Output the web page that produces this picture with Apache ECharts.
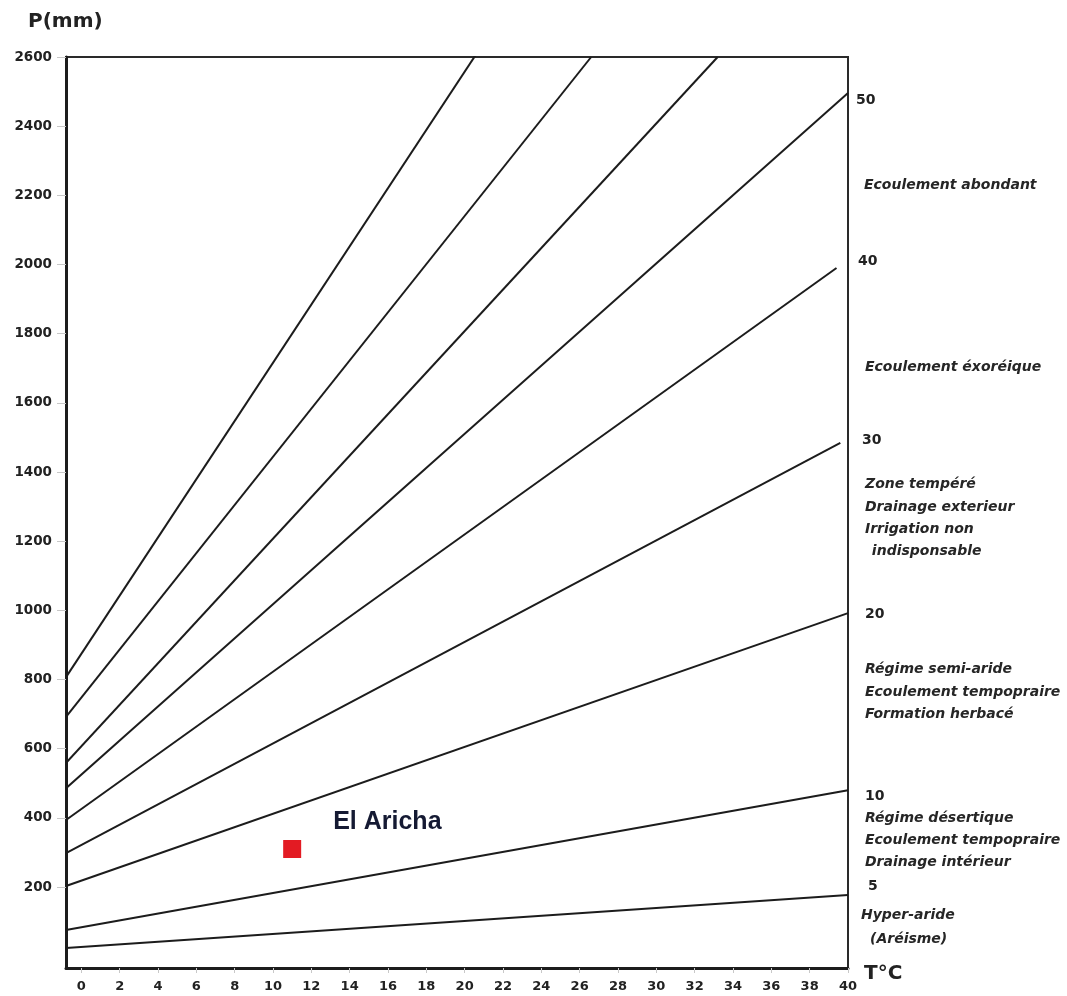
<!DOCTYPE html>
<html>
<head>
<meta charset="utf-8">
<title>Abaque de De Martonne</title>
<script src="https://cdn.jsdelivr.net/npm/echarts@6/dist/echarts.min.js"></script>
<style>
  html, body { margin: 0; padding: 0; background: #fff; }
  #chart { width: 1067px; height: 996px; }
</style>
</head>
<body>
<div id="chart"></div>
<script>
// Aridity index isolines (De Martonne): each drawn from its start to its end point
const indexLevels = [5, 10, 20, 30, 40, 50, 60, 70, 80];
const lineStartT = [-0.8, -0.8, -0.8, -0.8, -0.8, -0.8, -0.9, -0.8, -0.8];
const lineStartP = [24, 76, 203, 298, 394, 486, 553, 692, 807];
const lineEndT   = [40, 40, 40, 39.6, 39.4, 40, 33.2, 26.6, 20.6];
const lineEndP   = [177, 480, 992, 1484, 1990, 2496, 2600, 2600, 2608];

// Station
const stationNames = ['El Aricha'];
const stationT = [11.0];
const stationP = [310];

// Axis tick labels
const tempTicks = [0, 2, 4, 6, 8, 10, 12, 14, 16, 18, 20, 22, 24, 26, 28, 30, 32, 34, 36, 38, 40];
const precipTicks = [200, 400, 600, 800, 1000, 1200, 1400, 1600, 1800, 2000, 2200, 2400, 2600];

// Index values written at the right of the frame
const indexLabels = ['50', '40', '30', '20', '10', '5'];

// Climatic zone descriptions beside the frame
const zoneTexts = [
  'Ecoulement abondant',
  'Ecoulement éxoréique',
  'Zone tempéré',
  'Drainage exterieur',
  'Irrigation non',
  ' indisponsable',
  'Régime semi-aride',
  'Ecoulement tempopraire',
  'Formation herbacé',
  'Régime désertique',
  'Ecoulement tempopraire',
  'Drainage intérieur',
  'Hyper-aride',
  '(Aréisme)'
];

const indexLabelPos = [[856, 100], [858, 261], [862, 440], [865, 614], [865, 796], [868, 886]];
const zoneTextPos = [
  [864, 185], [865, 367], [865, 484], [865, 507], [865, 529], [867, 551],
  [865, 669], [865, 692], [865, 714], [865, 818], [865, 840], [865, 862],
  [861, 915], [870, 939]
];

const chart = echarts.init(document.getElementById('chart'), null, { renderer: 'canvas' });

const isolineSeries = indexLevels.map((lvl, i) => ({
  type: 'line',
  name: 'I=' + lvl,
  data: [[lineStartT[i], lineStartP[i]], [lineEndT[i], lineEndP[i]]],
  symbol: 'none',
  silent: true,
  clip: true,
  lineStyle: { color: '#1c1c1c', width: 2 },
  z: 3
}));

const graphics = [];
graphics.push({
  type: 'text', x: 28, y: 22,
  style: { text: 'P(mm)', font: 'bold 20px "DejaVu Sans"', fill: '#222', align: 'left', verticalAlign: 'middle' }
});
graphics.push({
  type: 'text', x: 864, y: 974,
  style: { text: 'T°C', font: 'bold 20px "DejaVu Sans"', fill: '#222', align: 'left', verticalAlign: 'middle' }
});
indexLabels.forEach((t, i) => {
  graphics.push({
    type: 'text', x: indexLabelPos[i][0], y: indexLabelPos[i][1],
    style: { text: t, font: 'bold 14px "DejaVu Sans"', fill: '#222', align: 'left', verticalAlign: 'middle' }
  });
});
zoneTexts.forEach((t, i) => {
  graphics.push({
    type: 'text', x: zoneTextPos[i][0], y: zoneTextPos[i][1],
    style: { text: t, font: 'italic bold 14px "DejaVu Sans"', fill: '#262626', align: 'left', verticalAlign: 'middle' }
  });
});

chart.setOption({
  animation: false,
  backgroundColor: '#fff',
  grid: {
    left: 66, right: 219, top: 57, bottom: 28,
    show: true, borderColor: '#2a2a2a', borderWidth: 2
  },
  xAxis: {
    type: 'value',
    min: -0.8, max: 40,
    axisLine: { show: true, onZero: false, lineStyle: { color: '#1c1c1c', width: 3 } },
    axisTick: { show: true, customValues: tempTicks, length: 5, lineStyle: { color: '#c8c8c8', width: 1 } },
    axisLabel: {
      customValues: tempTicks, margin: 12,
      formatter: v => String(v),
      color: '#222', fontFamily: 'DejaVu Sans', fontWeight: 'bold', fontSize: 13
    },
    splitLine: { show: false }
  },
  yAxis: {
    type: 'value',
    min: -34, max: 2600,
    axisLine: { show: true, onZero: false, lineStyle: { color: '#1c1c1c', width: 3 } },
    axisTick: { show: true, customValues: precipTicks, length: 9, lineStyle: { color: '#c8c8c8', width: 1 } },
    axisLabel: {
      customValues: precipTicks, margin: 14,
      formatter: v => String(v),
      color: '#222', fontFamily: 'DejaVu Sans', fontWeight: 'bold', fontSize: 13.5
    },
    splitLine: { show: false }
  },
  series: isolineSeries.concat([{
    type: 'scatter',
    name: 'Stations',
    data: stationT.map((t, i) => ({ name: stationNames[i], value: [t, stationP[i]] })),
    symbol: 'rect',
    symbolSize: 18,
    itemStyle: { color: '#e31b23', opacity: 1 },
    label: {
      show: true,
      formatter: p => p.name,
      position: [50, -18],
      align: 'left',
      verticalAlign: 'middle',
      color: '#151a33',
      opacity: 1,
      fontFamily: 'Liberation Sans',
      fontWeight: 'bold',
      fontSize: 25
    },
    emphasis: { disabled: true },
    z: 5
  }]),
  graphic: graphics
});
</script>
</body>
</html>
